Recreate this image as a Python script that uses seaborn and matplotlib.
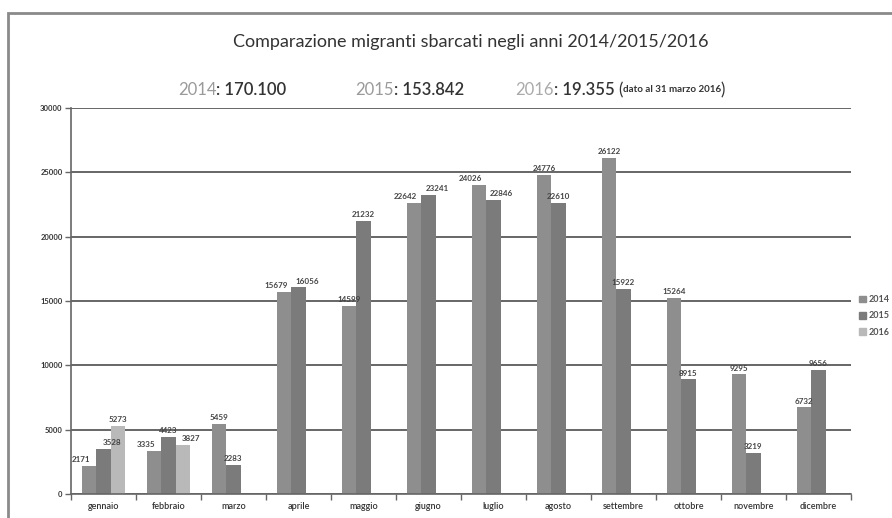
import matplotlib
matplotlib.use("Agg")
import matplotlib.pyplot as plt
import matplotlib.patches as mpatches
import seaborn as sns
import numpy as np
import pandas as pd

months = ["gennaio", "febbraio", "marzo", "aprile", "maggio", "giugno",
          "luglio", "agosto", "settembre", "ottobre", "novembre", "dicembre"]
years = ["2014", "2015", "2016"]
v2014 = [2171, 3335, 5459, 15679, 14599, 22642, 24026, 24776, 26122, 15264, 9295, 6732]
v2015 = [3528, 4423, 2283, 16056, 21232, 23241, 22846, 22610, 15922, 8915, 3219, 9656]
v2016 = [5273, 3827, np.nan, np.nan, np.nan, np.nan, np.nan, np.nan, np.nan, np.nan, np.nan, np.nan]
yticks = [0, 5000, 10000, 15000, 20000, 25000, 30000]
colors = ["#8e8e8e", "#7b7b7b", "#b9b9b9"]

rows = []
for y, vals in zip(years, [v2014, v2015, v2016]):
    for m, v in zip(months, vals):
        rows.append({"mese": m, "anno": y, "valore": v})
df = pd.DataFrame(rows)

sns.set_theme(style="white")
plt.rcParams["font.family"] = ["Lato", "DejaVu Sans"]

W, H = 892, 518
fig = plt.figure(figsize=(W / 100, H / 100), dpi=100)
fig.patch.set_facecolor("white")

# outer frame
fig.add_artist(mpatches.Rectangle((8 / W, -0.1), 1.2, 1.1 - 13 / H, transform=fig.transFigure,
                                  fill=False, edgecolor="#8a8a8a", lw=2, clip_on=False))

ax = fig.add_axes([71 / W, 1 - 494 / H, (851 - 71) / W, (494 - 108) / H])
sns.barplot(data=df, x="mese", y="valore", hue="anno", hue_order=years, order=months,
            palette=colors, width=0.66, saturation=1, edgecolor="none", ax=ax,
            legend=False, errorbar=None)

ax.set_ylim(0, 30000)
ax.set_xlim(-0.5, 11.5)
ax.set_yticks(yticks)
ax.set_yticklabels([str(t) for t in yticks], fontsize=5.5, fontweight="bold", color="#333")
ax.set_xticks(np.arange(-0.5, 12, 1))
ax.set_xticklabels([])
ax.set_xticks(np.arange(12), minor=True)
ax.set_xticklabels(months, minor=True, fontsize=6.5, color="#333", fontweight="semibold")
ax.tick_params(axis="x", which="major", length=4, width=1, color="#666", direction="out", bottom=True)
ax.tick_params(axis="x", which="minor", length=0, pad=6)
ax.tick_params(axis="y", length=4, width=1, color="#666", direction="out", left=True, pad=2)
ax.set_xlabel("")
ax.set_ylabel("")
ax.yaxis.grid(True, color="#5a5a5a", lw=1.3)
ax.set_axisbelow(True)
for s in ["top", "right"]:
    ax.spines[s].set_visible(False)
ax.spines["left"].set_color("#666")
ax.spines["bottom"].set_color("#666")
ax.spines["left"].set_linewidth(1.2)
ax.spines["bottom"].set_linewidth(1.2)

# data labels (nudged apart when neighbouring bars have similar heights)
nh = len(ax.containers)
table = [[None] * nh for _ in months]
for j, cont in enumerate(ax.containers):
    for b in cont:
        i = int(round(b.get_x() + b.get_width() / 2))
        if 0 <= i < len(months):
            table[i][j] = b
for i in range(len(months)):
    bars = table[i]
    hs = [np.nan if b is None else b.get_height() for b in bars]
    for j, b in enumerate(bars):
        if b is None:
            continue
        h = hs[j]
        if np.isnan(h) or h == 0:
            continue
        dx = 0
        if j + 1 < nh and not np.isnan(hs[j + 1]) and abs(hs[j + 1] - h) < 1600:
            dx -= 6
        if j > 0 and not np.isnan(hs[j - 1]) and abs(hs[j - 1] - h) < 1600:
            dx += 6
        ax.annotate(f"{int(h)}", (b.get_x() + b.get_width() / 2, h), xytext=(dx, 2),
                    textcoords="offset points", ha="center", va="bottom",
                    fontsize=5.8, fontweight="bold", color="#444")

# legend
handles = [mpatches.Patch(color=c, label=y) for c, y in zip(colors, years)]
fig.legend(handles=handles, loc="upper left", bbox_to_anchor=(851 / W, 1 - 287 / H),
           frameon=False, prop={"size": 6.5, "weight": "bold"}, handlelength=0.8,
           handleheight=0.8, handletextpad=0.3, labelspacing=0.8, labelcolor="#555")

# title
fig.text(471 / W, 1 - 42 / H, "Comparazione migranti sbarcati negli anni 2014/2015/2016",
         ha="center", va="center", fontsize=13, color="#333")

# subtitle pieces
renderer = fig.canvas.get_renderer()
def piece(x, s, color, size, weight="normal"):
    t = fig.text(x / W, 1 - 90 / H, s, ha="left", va="center", fontsize=size, color=color,
                 fontweight=weight)
    bb = t.get_window_extent(renderer=renderer)
    return bb.x1

x = piece(178, "2014", "#9a9a9a", 12)
piece(x, ": 170.100", "#333", 12, "semibold")
x = piece(355, "2015", "#9a9a9a", 12)
piece(x, ": 153.842", "#333", 12, "semibold")
x = piece(515, "2016", "#aaaaaa", 12)
x = piece(x, ": 19.355 ", "#333", 12, "semibold")
x = piece(x, "(", "#333", 12)
x = piece(x, "dato al 31 marzo 2016", "#333", 7, "bold")
piece(x, ")", "#333", 12)

fig.savefig("out.png", dpi=100)
